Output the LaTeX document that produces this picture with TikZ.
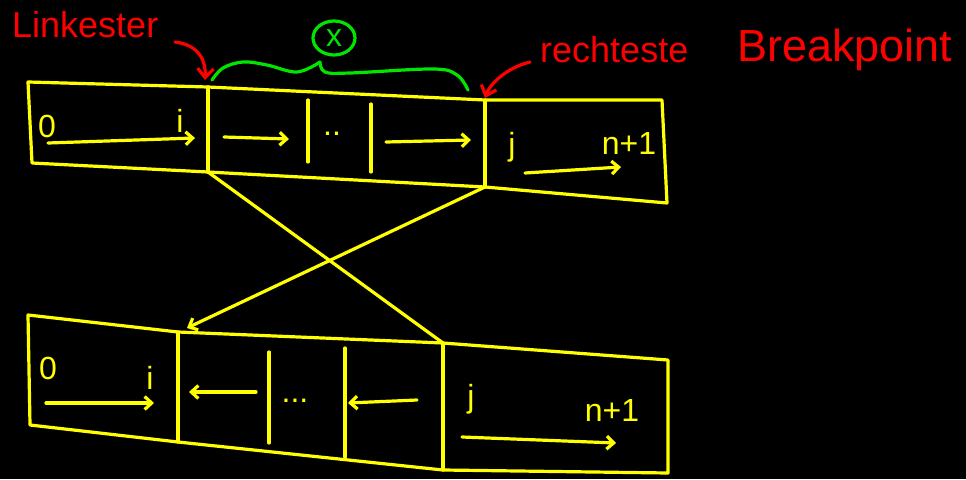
\documentclass[tikz,border=0pt]{standalone}
\usepackage{fontspec}
\setmainfont{Liberation Sans}
\usetikzlibrary{arrows.meta,shapes.geometric}
\definecolor{hy}{RGB}{255,255,0}
\definecolor{hr}{RGB}{255,0,0}
\definecolor{hg}{RGB}{0,230,0}
\begin{document}
\begin{tikzpicture}[x=1pt,y=-1pt,
  pen/.style={line width=3.2pt, line cap=round, line join=round},
  box/.style={pen, draw=hy},
  ar/.style={pen, draw=hy, -{Straight Barb[length=7pt,width=13pt]}},
  rar/.style={pen, draw=hr, -{Straight Barb[length=9pt,width=16pt]}},
  ylab/.style={text=hy, font=\fontsize{32}{32}\selectfont, inner sep=0pt},
  rlab/.style={text=hr, inner sep=0pt},
]
\fill[black] (0,0) rectangle (966,479);
\useasboundingbox (0,0) rectangle (966,479);

% top box
\coordinate (t1) at (28,82);
\coordinate (t2) at (208,87);
\coordinate (t3) at (485,100);
\coordinate (t4) at (662,100);
\coordinate (t5) at (667,203);
\coordinate (t6) at (485,187);
\coordinate (t7) at (208,172);
\coordinate (t8) at (32,163);
\draw[box] (t1) -- (t2) -- (t3) -- (t4) -- (t5) -- (t6) -- (t7) -- (t8) -- cycle;
\draw[box] (t2) -- (t7);
\draw[box] (t3) -- (t6);
\draw[box] (308,100) -- (308,162);
\draw[box] (371,104) -- (371,172);
\draw[ar] (48,143) -- (195,138);
\draw[ar] (224,137) -- (289,139);
\draw[ar] (386,142) -- (471,140);
\draw[ar] (525,173) -- (621,167);
\node[ylab] (t0) at (47,126) {0};
\node[ylab] (ti) at (180,121) {i};
\node[ylab] (td) at (332,134) {..};
\node[ylab] (tj) at (512,147) {j};
\node[ylab] (tn) at (629,143) {n+1};

% bottom box
\coordinate (b1) at (28,315);
\coordinate (b2) at (178,332);
\coordinate (b3) at (443,343);
\coordinate (b4) at (668,360);
\coordinate (b5) at (668,473);
\coordinate (b6) at (443,470);
\coordinate (b7) at (178,442);
\coordinate (b8) at (30,425);
\draw[box] (b1) -- (b2) -- (b3) -- (b4) -- (b5) -- (b6) -- (b7) -- (b8) -- cycle;
\draw[box] (b2) -- (b7);
\draw[box] (b3) -- (b6);
\draw[box] (269,352) -- (269,443);
\draw[box] (345,348) -- (345,457);
\draw[ar] (46,403) -- (154,403);
\draw[ar] (256,392) -- (189,392);
\draw[ar] (417,400) -- (348,403);
\draw[ar] (462,437) -- (616,443);
\node[ylab] (b0) at (48,368) {0};
\node[ylab] (bi) at (150,378) {i};
\node[ylab] (bd) at (295,401) {...};
\node[ylab] (bj) at (471,399) {j};
\node[ylab] (bn) at (612,410) {n+1};

% crossing connectors
\coordinate (bx) at (187,328);
\draw[box] (t7) -- (b3);
\draw[ar] (t6) -- (bx);

% green brace and circled x
\node[ellipse, draw=hg, pen, minimum width=42pt, minimum height=34pt, inner sep=0pt,
      text=hg, font=\fontsize{32}{32}\selectfont] (ox) at (334,38) {x};
\draw[pen, draw=hg] plot[smooth, tension=0.6] coordinates {(212,80) (223,68) (243,62) (267,65) (297,72) (320,62)};
\draw[pen, draw=hg] plot[smooth, tension=0.6] coordinates {(320,62) (325,72) (350,73) (433,69) (457,75) (468,90)};

% red labels
\node[rlab, font=\fontsize{36}{36}\selectfont, anchor=base west] (ll) at (12,37) {Linkester};
\node[rlab, font=\fontsize{36}{36}\selectfont, anchor=base west] (rr) at (540,62) {rechteste};
\node[rlab, font=\fontsize{45}{45}\selectfont, anchor=base west] (bp) at (737,61) {Breakpoint};
\coordinate (la) at (175,42);
\coordinate (ra) at (530,62);
\coordinate (lt) at (205,80);
\coordinate (rt) at (485,98);
\draw[rar] (la) .. controls (200,45) and (206,62) .. (lt);
\draw[rar] (ra) .. controls (506,68) and (490,84) .. (rt);
\end{tikzpicture}
\end{document}
